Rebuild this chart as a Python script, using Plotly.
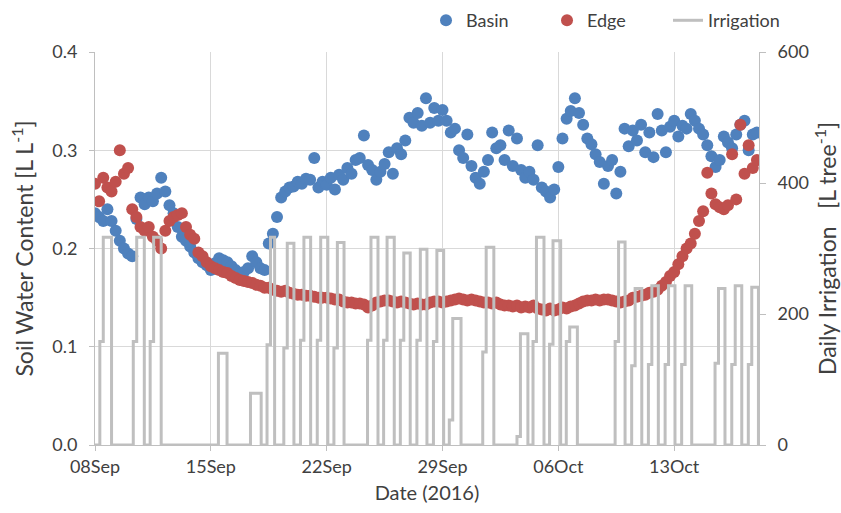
import pandas as pd
import plotly.graph_objects as go

# ---------------- data ----------------
# soil water content sampled every 6 h from 2016-09-08 00:00
sample_start = "2016-09-08 00:00"
basin = [
    0.236, 0.232, 0.228, 0.240,
    0.228, 0.218, 0.208, 0.200,
    0.195, 0.192, 0.230, 0.252,
    0.245, 0.252, 0.248, 0.256,
    0.272, 0.258, 0.244, 0.236,
    0.222, 0.212, 0.208, 0.202,
    0.196, 0.190, 0.186, 0.183,
    0.178, 0.185, 0.190, 0.188,
    0.186, 0.182, 0.178, 0.175,
    0.176, 0.180, 0.192, 0.186,
    0.180, 0.178, 0.205, 0.215,
    0.232, 0.252, 0.258, 0.262,
    0.263, 0.268, 0.266, 0.271,
    0.270, 0.292, 0.262, 0.268,
    0.265, 0.272, 0.260, 0.275,
    0.270, 0.282, 0.276, 0.290,
    0.292, 0.315, 0.285, 0.280,
    0.270, 0.278, 0.286, 0.298,
    0.276, 0.302, 0.296, 0.310,
    0.333, 0.328, 0.338, 0.325,
    0.353, 0.328, 0.343, 0.330,
    0.341, 0.330, 0.318, 0.322,
    0.300, 0.292, 0.316, 0.284,
    0.272, 0.266, 0.278, 0.290,
    0.318, 0.302, 0.305, 0.290,
    0.320, 0.284, 0.312, 0.280,
    0.272, 0.278, 0.270, 0.305,
    0.262, 0.258, 0.252, 0.260,
    0.283, 0.312, 0.332, 0.340,
    0.353, 0.338, 0.326, 0.312,
    0.306, 0.296, 0.288, 0.266,
    0.284, 0.290, 0.256, 0.278,
    0.322, 0.304, 0.320, 0.310,
    0.326, 0.298, 0.318, 0.293,
    0.337, 0.320, 0.298, 0.324,
    0.330, 0.314, 0.325, 0.322,
    0.337, 0.330, 0.322, 0.316,
    0.305, 0.294, 0.283, 0.290,
    0.314, 0.308, 0.302, 0.316,
    0.326, 0.330, 0.300, 0.316,
    0.318,
]
edge = [
    0.266, 0.248, 0.272, 0.262,
    0.258, 0.268, 0.300, 0.276,
    0.282, 0.240, 0.232, 0.222,
    0.218, 0.222, 0.212, 0.208,
    0.200, 0.218, 0.228, 0.232,
    0.234, 0.236, 0.222, 0.214,
    0.210, 0.196, 0.192, 0.186,
    0.182, 0.180, 0.178, 0.176,
    0.175, 0.172, 0.170, 0.168,
    0.167, 0.166, 0.165, 0.163,
    0.162, 0.160, 0.160, 0.158,
    0.157, 0.156, 0.157, 0.155,
    0.154, 0.153, 0.153, 0.152,
    0.152, 0.151, 0.150, 0.150,
    0.150, 0.149, 0.148, 0.148,
    0.146, 0.145, 0.145, 0.144,
    0.144, 0.143, 0.140, 0.142,
    0.145, 0.146, 0.147, 0.147,
    0.146, 0.145, 0.146, 0.145,
    0.144, 0.143, 0.144, 0.143,
    0.143, 0.145, 0.146, 0.146,
    0.145, 0.146, 0.147, 0.148,
    0.149, 0.148, 0.147, 0.148,
    0.147, 0.146, 0.145, 0.145,
    0.144, 0.145, 0.143, 0.142,
    0.142, 0.141, 0.142, 0.140,
    0.141, 0.140, 0.142, 0.139,
    0.138, 0.137, 0.139, 0.137,
    0.138, 0.140, 0.139, 0.141,
    0.142, 0.144, 0.146, 0.147,
    0.147, 0.148, 0.147, 0.148,
    0.148, 0.147, 0.146, 0.145,
    0.146, 0.147, 0.150, 0.151,
    0.152, 0.153, 0.155, 0.156,
    0.158, 0.162, 0.166, 0.172,
    0.176, 0.184, 0.192, 0.200,
    0.205, 0.215, 0.228, 0.238,
    0.277, 0.256, 0.245, 0.242,
    0.240, 0.244, 0.296, 0.250,
    0.326, 0.276, 0.305, 0.282,
    0.290,
]

# irrigation events: start, end, level after first pulse, level after second pulse [L tree-1]
irr_start = [
    "2016-09-08 07:00", "2016-09-10 07:30", "2016-09-11 08:00", "2016-09-15 11:00",
    "2016-09-17 09:30", "2016-09-18 09:30", "2016-09-19 09:50", "2016-09-20 10:00",
    "2016-09-21 10:20", "2016-09-22 10:30", "2016-09-24 11:15", "2016-09-25 10:35",
    "2016-09-26 10:50", "2016-09-27 10:50", "2016-09-28 10:50", "2016-09-29 09:50",
    "2016-10-01 10:20", "2016-10-03 12:00", "2016-10-04 11:15", "2016-10-05 11:15",
    "2016-10-06 11:30", "2016-10-09 10:20", "2016-10-10 10:20", "2016-10-11 10:35",
    "2016-10-12 10:50", "2016-10-13 10:50", "2016-10-15 11:15", "2016-10-16 11:30",
    "2016-10-17 11:30",
]
irr_end = [
    "2016-09-09 00:00", "2016-09-10 23:30", "2016-09-12 00:00", "2016-09-15 23:30",
    "2016-09-18 01:00", "2016-09-18 20:30", "2016-09-20 00:30", "2016-09-21 00:45",
    "2016-09-22 01:40", "2016-09-23 01:10", "2016-09-25 02:25", "2016-09-26 02:00",
    "2016-09-27 01:10", "2016-09-28 01:25", "2016-09-29 01:40", "2016-09-30 02:50",
    "2016-10-02 02:25", "2016-10-04 03:50", "2016-10-05 03:10", "2016-10-06 03:20",
    "2016-10-07 03:35", "2016-10-10 00:45", "2016-10-11 01:00", "2016-10-12 01:00",
    "2016-10-13 01:10", "2016-10-14 01:25", "2016-10-16 01:40", "2016-10-17 02:00",
    "2016-10-18 02:10",
]
irr_first = [158, 158, 158, 140, 79, 153, 148, 160, 160, 148, 160, 160, 160, 160, 158,
             38, 142, 13, 158, 154, 158, 158, 121, 123, 123, 123, 125, 123, 123]
irr_peak = [317, 317, 317, 140, 79, 317, 308, 317, 317, 309, 317, 317, 293, 299, 297,
            193, 302, 170, 317, 312, 180, 310, 239, 243, 243, 243, 239, 243, 241]

x_range = ["2016-09-08 00:00", "2016-10-18 03:00"]

# ---------------- build series ----------------
times = pd.date_range(sample_start, periods=len(basin), freq="6h")
pulse_gap = pd.Timedelta(hours=5)
irr_x = [pd.Timestamp(sample_start)]
irr_y = [0]
for s, e, a, b in zip(irr_start, irr_end, irr_first, irr_peak):
    s = pd.Timestamp(s)
    irr_x += [s, s + pulse_gap, pd.Timestamp(e)]
    irr_y += [a, b, 0]

FONT = "Lato, 'Open Sans', sans-serif"
TXT = "#404040"
GRID = "#d9d9d9"
AXL = "#bfbfbf"

fig = go.Figure()
fig.add_trace(go.Scatter(x=times, y=basin, mode="markers", name="Basin",
                         marker=dict(color="#4f81bd", size=12)))
fig.add_trace(go.Scatter(x=times, y=edge, mode="markers", name="Edge",
                         marker=dict(color="#c0504d", size=12)))
fig.add_trace(go.Scatter(x=irr_x, y=irr_y, mode="lines", name="Irrigation", yaxis="y2",
                         line=dict(color="#bfbfbf", width=3, shape="hv")))

fig.update_layout(
    width=841, height=513,
    margin=dict(l=95, r=82, t=52, b=68, autoexpand=False),
    paper_bgcolor="white", plot_bgcolor="white",
    font=dict(family=FONT, color=TXT, size=18),
    showlegend=True,
    legend=dict(orientation="h", x=0.4985, y=1.127, xanchor="left", yanchor="top",
                font=dict(size=18, color=TXT), entrywidth=76, entrywidthmode="pixels",
                bgcolor="rgba(0,0,0,0)"),
    xaxis=dict(type="date", range=x_range, tick0="2016-09-08", dtick=7 * 86400000,
               tickformat="%d%b", showgrid=True, gridcolor=GRID, gridwidth=1,
               showline=True, linecolor=AXL, linewidth=1, ticks="outside", ticklen=5,
               tickcolor=AXL, zeroline=False, tickfont=dict(size=18, color=TXT),
               automargin=False,
               title=dict(text="Date (2016)", font=dict(size=20, color=TXT), standoff=10)),
    yaxis=dict(range=[0, 0.4], dtick=0.1, tickformat=".1f", showgrid=True,
               gridcolor=GRID, gridwidth=1, showline=True, linecolor=AXL, linewidth=1,
               ticks="outside", ticklen=5, tickcolor=AXL, zeroline=False,
               tickfont=dict(size=18, color=TXT), ticklabelstandoff=8, automargin=False,
               title=dict(text="Soil Water Content [L L<sup>-1</sup>]",
                          font=dict(size=23, color=TXT), standoff=12)),
    yaxis2=dict(overlaying="y", side="right", range=[0, 600], dtick=200,
                showgrid=False, showline=True, linecolor=AXL, linewidth=1,
                ticks="outside", ticklen=6, tickcolor=AXL, zeroline=False,
                tickfont=dict(size=18, color=TXT), ticklabelstandoff=8, automargin=False,
                title=dict(text="Daily Irrigation&nbsp;&nbsp; [L tree<sup>-1</sup>]",
                           font=dict(size=23, color=TXT), standoff=12)),
)

fig.write_html("out.html")
